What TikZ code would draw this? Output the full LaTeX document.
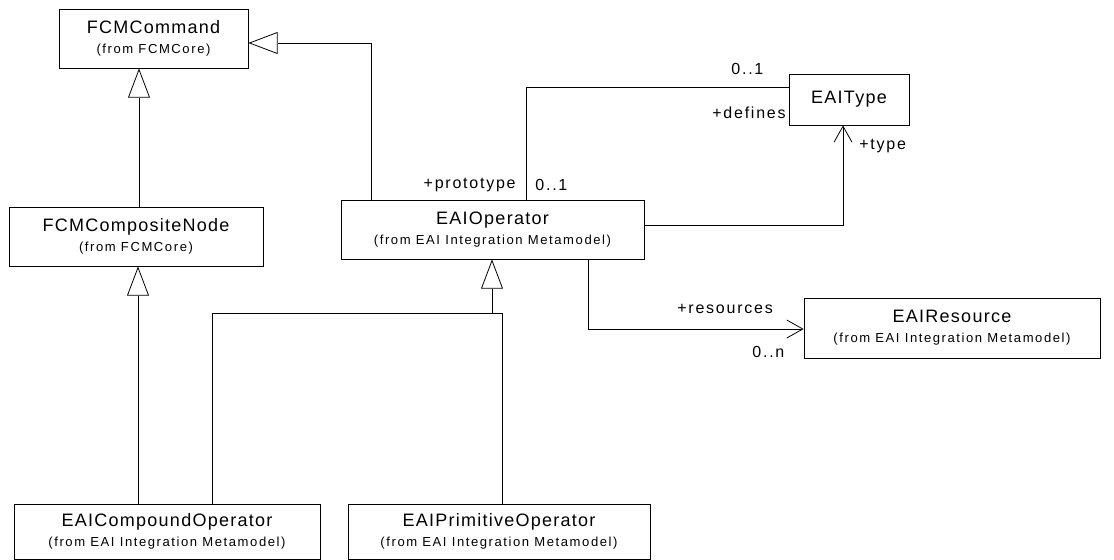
\documentclass[tikz,border=0pt]{standalone}
\usepackage{fontspec}
\setmainfont{Liberation Sans}
\newfontfamily\clsname[LetterSpace=7]{Liberation Sans}
\newfontfamily\clsfrom[LetterSpace=12]{Liberation Sans}
\newfontfamily\rolefont[LetterSpace=11]{Liberation Sans}
\usetikzlibrary{arrows.meta,positioning}
\newcommand{\umlclass}[2]{{\clsname\fontsize{13.5}{16}\selectfont #1}\\[3pt]{\clsfrom\fontsize{9.8}{11}\selectfont #2}}

\begin{document}
\begin{tikzpicture}[x=0.75pt,y=-0.75pt,line width=0.6pt,
    cls/.style={draw, fill=white, align=center, inner sep=0pt, minimum height=44.25pt},
    role/.style={font=\rolefont\fontsize{12}{14}\selectfont, inner sep=0pt},
    inherit/.style={-{Triangle[open,length=22pt,width=16.5pt]}},
    nav/.style={-{Straight Barb[length=12pt,width=13.5pt]}}]
  \useasboundingbox (0,0) rectangle (1114,560);

  \node[cls, minimum width=141.75pt] (cmd) at (153.5,38.5) {\umlclass{FCMCommand}{(from FCMCore)}};
  \node[cls, minimum width=190.5pt] (compnode) at (136,236.5) {\umlclass{FCMCompositeNode}{(from FCMCore)}};
  \node[cls, minimum width=227.25pt] (op) at (492.5,229.5) {\umlclass{EAIOperator}{(from EAI Integration Metamodel)}};
  \node[cls, minimum width=90pt, minimum height=38.25pt, font=\clsname\fontsize{13.5}{16}\selectfont] (type) at (849,99.5) {EAIType};
  \node[cls, minimum width=222pt, minimum height=45pt] (res) at (952,328) {\umlclass{EAIResource}{(from EAI Integration Metamodel)}};
  \node[cls, minimum width=229.5pt, minimum height=41.25pt] (cmpd) at (167,531.5) {\umlclass{EAICompoundOperator}{(from EAI Integration Metamodel)}};
  \node[cls, minimum width=226.5pt, minimum height=41.25pt] (prim) at (499,531.5) {\umlclass{EAIPrimitiveOperator}{(from EAI Integration Metamodel)}};

  \coordinate (gen) at (492,313);

  \draw[inherit] (compnode.north -| 139,0) -- (cmd.south -| 139,0);
  \draw[inherit] (op.north -| 371,0) |- (cmd.east |- 0,43);
  \draw[inherit] (cmpd.north -| 138,0) -- (compnode.south -| 138,0);
  \draw[inherit] (gen) -- (op.south -| gen);
  \draw (cmpd.north -| 212,0) |- (502,313) -- (prim.north -| 502,0);
  \draw (op.north -| 526,0) |- (type.west |- 0,87);
  \draw[nav] (op.east |- 0,225) -| (type.south -| 843,0);
  \draw[nav] (op.south -| 588,0) |- (res.west |- 0,329);

  \node[role, anchor=west] (defmult) at (731,69) {0..1};
  \node[role, anchor=east] (defrole) at (786,113) {+defines};
  \node[role, anchor=west] (typerole) at (859,146) {+type};
  \node[role, anchor=east] (protorole) at (516,185) {+prototype};
  \node[role, anchor=west] (protomult) at (535,185) {0..1};
  \node[role, anchor=west] (resrole) at (677,309) {+resources};
  \node[role, anchor=west] (resmult) at (752,352) {0..n};
\end{tikzpicture}
\end{document}
